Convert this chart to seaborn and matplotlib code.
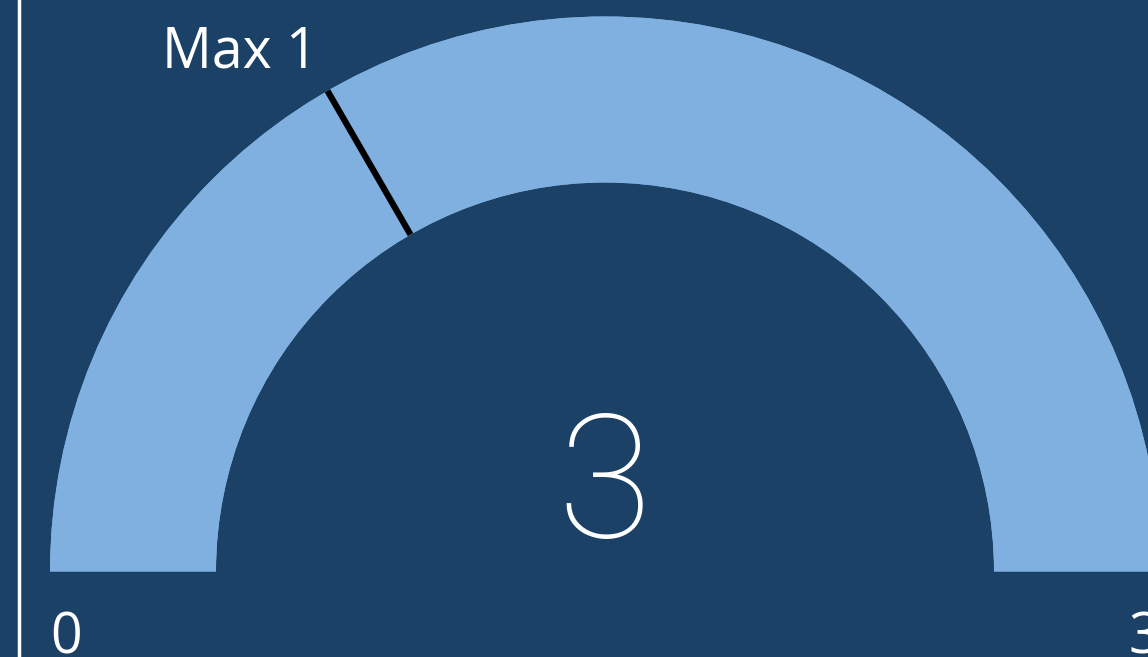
import numpy as np
import matplotlib
matplotlib.use("Agg")
import matplotlib.pyplot as plt
from matplotlib.patches import Wedge
import seaborn as sns

# Gauge data
gauge_min = 0
gauge_max = 3
gauge_value = 3
target_value = 1
target_label = "Max 1"

BG = "#1b4266"
ARC = "#7fb0df"

sns.set_theme(style="white")
plt.rcParams["font.family"] = ["Open Sans", "DejaVu Sans"]

W, H = 1148, 657
fig = plt.figure(figsize=(W / 100, H / 100), dpi=100, facecolor=BG)
ax = fig.add_axes([0, 0, 1, 1])
ax.set_facecolor(BG)
ax.set_xlim(0, W)
ax.set_ylim(0, H)
ax.set_axis_off()

cx, cy = 605, H - 571.5
r_out, r_in = 555, 389


def to_angle(v):
    frac = (v - gauge_min) / (gauge_max - gauge_min)
    return 180 - 180 * frac


# track and value arcs
ax.add_patch(Wedge((cx, cy), r_out, 0, 180, width=r_out - r_in,
                   facecolor=ARC, edgecolor="none"))
ax.add_patch(Wedge((cx, cy), r_out, to_angle(gauge_value), 180,
                   width=r_out - r_in, facecolor=ARC, edgecolor="none"))

# target marker
a = np.deg2rad(to_angle(target_value))
ax.plot([cx + r_in * np.cos(a), cx + r_out * np.cos(a)],
        [cy + r_in * np.sin(a), cy + r_out * np.sin(a)],
        color="black", lw=4.5, solid_capstyle="butt")
ax.text(318, H - 67, target_label, ha="right", va="baseline",
        color="white", fontsize=40)

# central value
ax.text(cx, H - 537, f"{gauge_value}", ha="center", va="baseline",
        color="white", fontsize=124, fontfamily=["Roboto", "DejaVu Sans"],
        fontweight="light")

# range labels
ax.text(cx - r_out, H - 653, f"{gauge_min}", ha="left", va="baseline",
        color="white", fontsize=40)
ax.text(cx + r_out, H - 653, f"{gauge_max}", ha="right", va="baseline",
        color="white", fontsize=40)

# left divider
ax.plot([19, 19], [0, H], color="white", lw=2.5)

fig.savefig("out.png", dpi=100, facecolor=BG)
